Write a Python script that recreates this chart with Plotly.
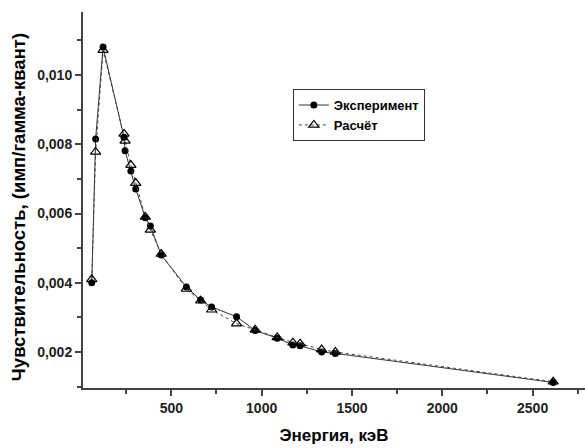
import plotly.graph_objects as go

energy = [59.5, 81, 122, 238, 244, 276, 303, 356, 384, 444, 583, 662, 723, 861, 964, 1086, 1173, 1213, 1332, 1408, 2614]
experiment = [0.0040, 0.00815, 0.01081, 0.0082, 0.00781, 0.00723, 0.00671, 0.00588, 0.00564, 0.0048, 0.00388,
              0.0035, 0.0033, 0.00302, 0.00262, 0.0024, 0.0022, 0.00218, 0.0020, 0.00196, 0.00112]
calculation = [0.0041, 0.00778, 0.01072, 0.0083, 0.0081, 0.0074, 0.00688, 0.0059, 0.00553, 0.00483, 0.00382,
               0.00348, 0.00322, 0.00282, 0.00264, 0.00242, 0.00227, 0.00224, 0.00207, 0.0020, 0.00114]

x_ticks = [500, 1000, 1500, 2000, 2500]
y_ticks = [0.002, 0.004, 0.006, 0.008, 0.010]

fig = go.Figure()
fig.add_trace(go.Scatter(
    x=energy, y=experiment, name="Эксперимент", mode="lines+markers",
    line=dict(color="#333333", width=1),
    marker=dict(symbol="circle", size=7, color="black"),
))
fig.add_trace(go.Scatter(
    x=energy, y=calculation, name="Расчёт", mode="lines+markers",
    line=dict(color="#444444", width=1, dash="dot"),
    marker=dict(symbol="triangle-up-open", size=9, color="black", line=dict(width=1.2)),
))

axis_font = dict(family="Liberation Sans, Arial", size=14, color="#222222", weight="bold")
fig.update_layout(
    width=585, height=448,
    margin=dict(l=83, r=0, t=12, b=60),
    paper_bgcolor="white", plot_bgcolor="white",
    separators=", ",
    showlegend=True,
    legend=dict(x=0.418, y=0.795, xanchor="left", yanchor="top",
                bordercolor="#333333", borderwidth=1, bgcolor="white",
                font=dict(family="Liberation Sans, Arial", size=13, color="black", weight="bold"),
                tracegroupgap=0, itemwidth=30),
    xaxis=dict(
        range=[11, 2790], tickvals=x_ticks, ticks="outside", ticklen=6, tickwidth=2,
        tickcolor="#444444", showline=True, linecolor="#444444", linewidth=2,
        showgrid=False, zeroline=False, tickfont=axis_font,
        minor=dict(dtick=250, ticks="outside", ticklen=4, tickwidth=1.5, tickcolor="#444444", tick0=0),
        title=dict(text="Энергия, кэВ", standoff=14,
                   font=dict(family="Liberation Sans, Arial", size=17, color="black", weight="bold")),
    ),
    yaxis=dict(
        range=[0.00096, 0.01182], tickvals=y_ticks, tickformat=".3f", ticks="outside", ticklen=6, tickwidth=2,
        tickcolor="#444444", showline=True, linecolor="#444444", linewidth=2,
        showgrid=False, zeroline=False, tickfont=axis_font,
        minor=dict(dtick=0.001, ticks="outside", ticklen=4, tickwidth=1.5, tickcolor="#444444", tick0=0),
    ),
    annotations=[dict(
        text="Чувствительность, (имп/гамма-квант)", textangle=-90,
        xref="paper", yref="paper", x=-0.1295, y=0.481, xanchor="center", yanchor="middle",
        showarrow=False,
        font=dict(family="Liberation Sans, Arial", size=18.5, color="black", weight="bold"),
    )],
)
fig.write_html("out.html")
